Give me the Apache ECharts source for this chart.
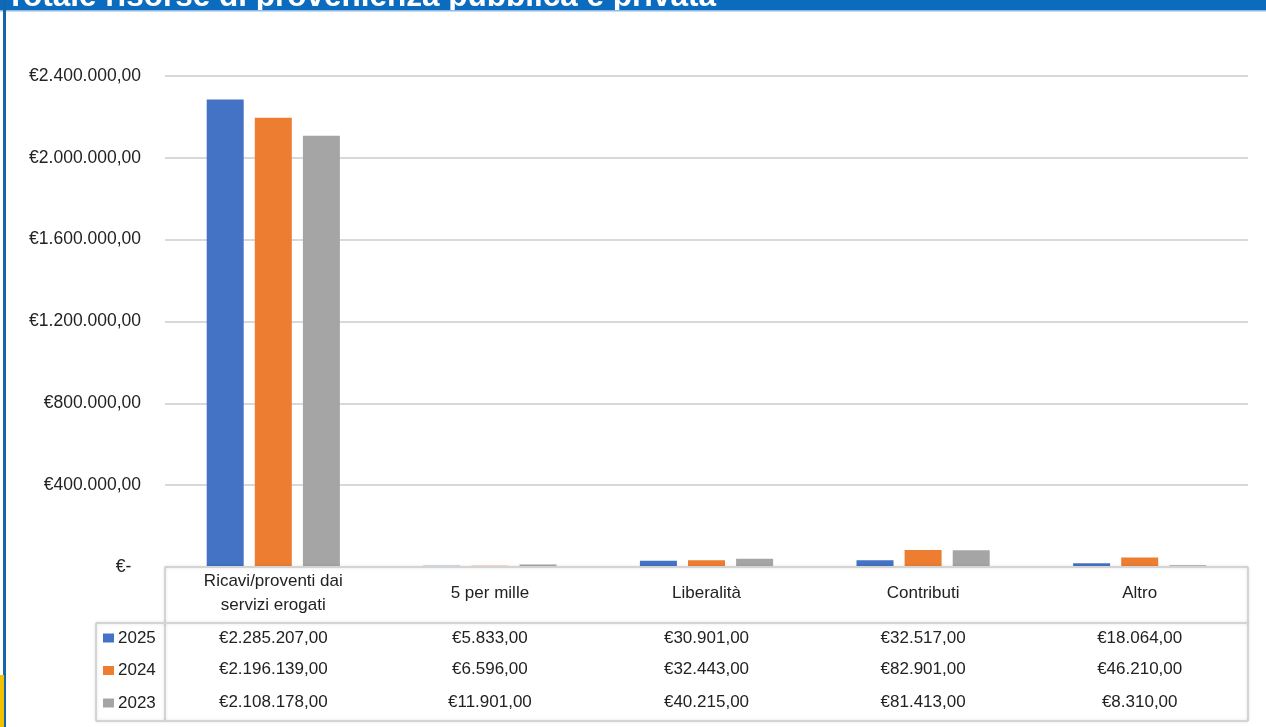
<!DOCTYPE html>
<html>
<head>
<meta charset="utf-8">
<script src="https://cdn.jsdelivr.net/npm/echarts@6/dist/echarts.min.js"></script>
<style>
html,body{margin:0;padding:0;background:#fff;}
#chart{width:1266px;height:727px;}
</style>
</head>
<body>
<div id="chart"></div>
<script>
const categories = ['Ricavi/proventi dai\nservizi erogati', '5 per mille', 'Liberalità', 'Contributi', 'Altro'];
const years = ['2025', '2024', '2023'];
const values2025 = [2285207, 5833, 30901, 32517, 18064];
const values2024 = [2196139, 6596, 32443, 82901, 46210];
const values2023 = [2108178, 11901, 40215, 81413, 8310];
const colors = ['#4472C4', '#ED7D31', '#A5A5A5'];
const title = 'Totale risorse di provenienza pubblica e privata';

const FONT = '"Liberation Sans", Arial, sans-serif';

function fmt(v) {
  const s = Math.round(v).toString().replace(/\B(?=(\d{3})+(?!\d))/g, '.');
  return '€' + s + ',00';
}

const seriesData = [values2025, values2024, values2023];

const gL = 165, gR = 1248, gB = 567, rowSep = 623, tBot = 721, legL = 96;
const lineStyle = { stroke: '#d4d4d4', lineWidth: 2, shadowBlur: 3, shadowColor: 'rgba(0,0,0,0.12)' };

const valueAxes = seriesData.map((arr, i) => ({
  type: 'category',
  gridIndex: 0,
  position: 'bottom',
  data: arr.map(fmt),
  axisLine: { show: false },
  axisTick: { show: false },
  splitLine: { show: false },
  axisLabel: {
    interval: 0,
    margin: [71, 102.5, 135.5][i],
    verticalAlign: 'middle',
    fontFamily: FONT,
    fontSize: 17,
    color: '#222'
  }
}));

const chart = echarts.init(document.getElementById('chart'));
chart.setOption({
  animation: false,
  backgroundColor: '#fff',
  grid: { left: gL, right: 1266 - gR, top: 76, bottom: 727 - gB },
  legend: {
    orient: 'vertical',
    left: 98,
    top: 623,
    data: years,
    icon: 'rect',
    itemWidth: 11,
    itemHeight: 9,
    itemGap: 12.5,
    textStyle: { fontFamily: FONT, fontSize: 17, color: '#222', lineHeight: 20, padding: [0, 0, 0, -1] }
  },
  xAxis: [{
    type: 'category',
    data: categories,
    position: 'bottom',
    axisLine: { show: false },
    axisTick: { show: false },
    axisLabel: {
      interval: 0,
      margin: 26,
      verticalAlign: 'middle',
      lineHeight: 24,
      fontFamily: FONT,
      fontSize: 17,
      color: '#222'
    }
  }].concat(valueAxes),
  yAxis: {
    type: 'value',
    min: 0,
    max: 2400000,
    interval: 400000,
    axisLine: { show: false },
    axisTick: { show: false },
    splitLine: { lineStyle: { color: '#d9d9d9', width: 2 } },
    axisLabel: {
      margin: 24,
      fontFamily: FONT,
      fontSize: 17.5,
      color: '#222',
      formatter: function (v) { return v === 0 ? '€-  ' : fmt(v); }
    }
  },
  series: years.map((y, i) => ({
    name: y,
    type: 'bar',
    xAxisIndex: 0,
    data: seriesData[i],
    barWidth: 37,
    barGap: '30%',
    itemStyle: { color: colors[i] }
  })),
  graphic: [
    { type: 'rect', shape: { x: 0, y: 0, width: 1266, height: 10 }, style: { fill: '#0b6bbf' }, z: 10 },
    { type: 'rect', shape: { x: 0, y: 10, width: 1266, height: 1.5 }, style: { fill: '#8fb8e3' }, z: 10 },
    { type: 'text', z: 11,
      style: { x: 6, y: 13, text: title, fill: '#fff', font: 'bold 31.5px ' + FONT, textVerticalAlign: 'bottom', verticalAlign: 'bottom' },
      clipPath: { type: 'rect', shape: { x: -10, y: 0, width: 1300, height: 10 } } },
    { type: 'rect', shape: { x: 3, y: 0, width: 3, height: 727 }, style: { fill: '#1565a8' }, z: 10 },
    { type: 'rect', shape: { x: 0, y: 675, width: 4, height: 52 }, style: { fill: '#f2c200' }, z: 11 },
    { type: 'line', shape: { x1: gL, y1: gB, x2: gR, y2: gB }, style: lineStyle, z: 5 },
    { type: 'line', shape: { x1: gL, y1: gB, x2: gL, y2: tBot }, style: lineStyle, z: 5 },
    { type: 'line', shape: { x1: gR, y1: gB, x2: gR, y2: tBot }, style: lineStyle, z: 5 },
    { type: 'line', shape: { x1: legL, y1: rowSep, x2: gR, y2: rowSep }, style: lineStyle, z: 5 },
    { type: 'line', shape: { x1: legL, y1: tBot, x2: gR, y2: tBot }, style: lineStyle, z: 5 },
    { type: 'line', shape: { x1: legL, y1: rowSep, x2: legL, y2: tBot }, style: lineStyle, z: 5 }
  ]
});
</script>
</body>
</html>
